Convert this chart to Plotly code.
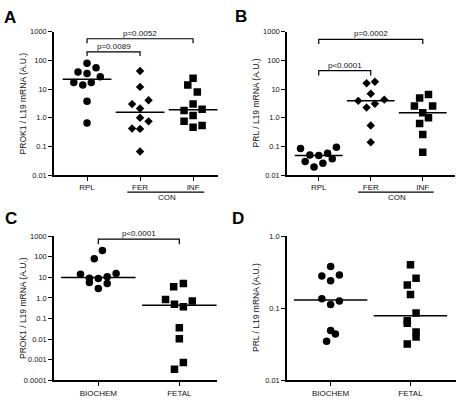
import math
import plotly.graph_objects as go

# ---------------- data ----------------
# Panel A: PROK1 / L19 mRNA
A_categories = ["RPL", "FER", "INF"]
A_RPL = [80, 40, 35, 56, 27, 17, 14, 17, 3.8, 0.66]
A_RPL_off = [0, -0.17, 0, 0.17, 0.25, -0.25, -0.08, 0.08, 0, 0]
A_FER = [43, 12, 3.0, 4.1, 2.1, 1.0, 0.75, 0.42, 0.41, 0.066]
A_FER_off = [0, 0, -0.15, 0.16, 0, 0, 0.16, -0.15, 0, 0]
A_INF = [24, 14, 8, 3.0, 1.8, 2.0, 1.2, 0.75, 0.47, 0.54]
A_INF_off = [0, -0.1, 0.08, 0, -0.17, 0.17, 0, -0.17, 0, 0.17]
A_medians = [22, 1.55, 1.9]

# Panel B: PRL / L19 mRNA
B_categories = ["RPL", "FER", "INF"]
B_RPL = [0.085, 0.093, 0.05, 0.048, 0.058, 0.03, 0.019, 0.026, 0.037]
B_RPL_off = [-0.35, 0.34, -0.17, 0, 0.17, -0.26, -0.09, 0.08, 0.26]
B_FER = [16, 18, 6.9, 3.9, 4.3, 3.1, 2.3, 0.54, 0.14]
B_FER_off = [-0.08, 0.08, 0, -0.24, 0.26, 0.08, -0.08, 0, 0]
B_INF = [6.5, 4.9, 2.6, 2.6, 1.5, 1.0, 0.63, 0.26, 0.063]
B_INF_off = [0.11, -0.06, -0.16, 0.19, 0, 0.11, -0.06, 0, 0]
B_medians = [0.048, 3.9, 1.5]

# Panel C: PROK1 / L19 mRNA
C_categories = ["BIOCHEM", "FETAL"]
C_BIO = [200, 80, 14, 15.5, 9, 8.7, 10.7, 5.6, 5.0, 2.9]
C_BIO_off = [0.05, -0.05, -0.22, 0.22, -0.11, 0, 0.11, -0.11, 0.11, 0]
C_FET = [3.5, 5.0, 0.85, 0.49, 0.37, 0.71, 0.036, 0.0105, 0.00074, 0.00035]
C_FET_off = [-0.07, 0.05, -0.17, -0.06, 0.05, 0.16, 0, 0, 0.05, -0.06]
C_medians = [9.8, 0.44]

# Panel D: PRL / L19 mRNA
D_categories = ["BIOCHEM", "FETAL"]
D_BIO = [0.38, 0.28, 0.29, 0.24, 0.135, 0.126, 0.113, 0.049, 0.044, 0.035]
D_BIO_off = [0, -0.11, 0.11, 0, -0.11, 0.11, 0, 0, 0.06, -0.05]
D_FET = [0.40, 0.26, 0.21, 0.155, 0.086, 0.067, 0.062, 0.047, 0.040, 0.032]
D_FET_off = [0, 0.07, -0.04, 0, 0.07, -0.04, -0.04, 0.07, 0.07, -0.04]
D_medians = [0.13, 0.079]

ticks_ABD = [1000, 100, 10, 1, 0.1, 0.01]
ticktext_ABD = ["1000", "100", "10", "1.0", "0.1", "0.01"]
ticks_C = [1000, 100, 10, 1, 0.1, 0.01, 0.001, 0.0001]
ticktext_C = ["1000", "100", "10", "1.0", "0.1", "0.01", "0.001", "0.0001"]
ticks_D = [1, 0.1, 0.01]
ticktext_D = ["1.0", "0.1", "0.01"]

# ---------------- layout helpers ----------------
W, H = 457, 401
FONT = "Liberation Sans, Arial, sans-serif"
TXT = "#111"


def px(x):
    return x / W


def py(y):
    return 1 - y / H


fig = go.Figure()


def add_group(xa, ya, idx, vals, offs, symbol, size):
    fig.add_trace(go.Scatter(
        x=[idx + o for o in offs], y=vals, mode="markers",
        marker=dict(symbol=symbol, size=size, color="black", line=dict(width=0)),
        xaxis=xa, yaxis=ya, showlegend=False, hoverinfo="y"))


def add_median(xa, ya, idx, m, half=0.46):
    fig.add_trace(go.Scatter(
        x=[idx - half, idx + half], y=[m, m], mode="lines",
        line=dict(color="black", width=1.5),
        xaxis=xa, yaxis=ya, showlegend=False, hoverinfo="skip"))


def add_bracket(xa, ya, i0, i1, lo, hi, label):
    fig.add_trace(go.Scatter(
        x=[i0, i0, i1, i1], y=[lo, hi, hi, lo], mode="lines",
        line=dict(color="black", width=1.2),
        xaxis=xa, yaxis=ya, showlegend=False, hoverinfo="skip"))
    fig.add_annotation(x=(i0 + i1) / 2, y=math.log10(hi), xref=xa, yref=ya,
                       text=label, showarrow=False, xanchor="center",
                       yanchor="bottom", yshift=-1,
                       font=dict(family=FONT, size=8, color=TXT))


# Panel A
add_group("x", "y", 0, A_RPL, A_RPL_off, "circle", 7.5)
add_group("x", "y", 1, A_FER, A_FER_off, "diamond", 6.5)
add_group("x", "y", 2, A_INF, A_INF_off, "square", 7.5)
for i, m in enumerate(A_medians):
    add_median("x", "y", i, m)
add_bracket("x", "y", 0, 2, 400, 575, "p=0.0052")
add_bracket("x", "y", 0, 1, 145, 200, "p=0.0089")

# Panel B
add_group("x2", "y2", 0, B_RPL, B_RPL_off, "circle", 7.5)
add_group("x2", "y2", 1, B_FER, B_FER_off, "diamond", 6.5)
add_group("x2", "y2", 2, B_INF, B_INF_off, "square", 7.5)
for i, m in enumerate(B_medians):
    add_median("x2", "y2", i, m)
add_bracket("x2", "y2", 0, 2, 380, 550, "p=0.0002")
add_bracket("x2", "y2", 0, 1, 30, 44, "p<0.0001")

# Panel C
add_group("x3", "y3", 0, C_BIO, C_BIO_off, "circle", 7.5)
add_group("x3", "y3", 1, C_FET, C_FET_off, "square", 7.5)
for i, m in enumerate(C_medians):
    add_median("x3", "y3", i, m)
add_bracket("x3", "y3", 0, 1, 400, 720, "p<0.0001")

# Panel D
add_group("x4", "y4", 0, D_BIO, D_BIO_off, "circle", 7.5)
add_group("x4", "y4", 1, D_FET, D_FET_off, "square", 7.5)
for i, m in enumerate(D_medians):
    add_median("x4", "y4", i, m)


def xaxis(dom, rng, cats):
    return dict(domain=[px(dom[0]), px(dom[1])], range=list(rng),
                tickvals=list(range(len(cats))), ticktext=cats,
                showline=True, linecolor="black", linewidth=1.5,
                ticks="outside", ticklen=4, tickwidth=1.2, tickcolor="black",
                showgrid=False, zeroline=False, fixedrange=True,
                tickfont=dict(family=FONT, size=8, color=TXT))


def yaxis(dom, rng, tv, tt, anchor):
    return dict(domain=[py(dom[1]), py(dom[0])], type="log", range=list(rng),
                tickvals=tv, ticktext=tt, anchor=anchor,
                showline=True, linecolor="black", linewidth=1.5,
                ticks="outside", ticklen=4, tickwidth=1.2, tickcolor="black",
                showgrid=False, zeroline=False, fixedrange=True,
                tickfont=dict(family=FONT, size=7.5, color=TXT))


fig.update_layout(
    width=W, height=H, margin=dict(l=0, r=0, t=0, b=0),
    paper_bgcolor="white", plot_bgcolor="white", showlegend=False,
    xaxis=xaxis((54, 218), (-0.623, 2.47), A_categories) | dict(anchor="y"),
    yaxis=yaxis((28.5, 175), (-2, 3), ticks_ABD, ticktext_ABD, "x"),
    xaxis2=xaxis((287, 455), (-0.61, 2.62), B_categories) | dict(anchor="y2"),
    yaxis2=yaxis((28.5, 175), (-2, 3), ticks_ABD, ticktext_ABD, "x2"),
    xaxis3=xaxis((54, 217), (-0.547, 1.465), C_categories) | dict(anchor="y3"),
    yaxis3=yaxis((237.5, 385), (-4, 3), ticks_C, ticktext_C, "x3"),
    xaxis4=xaxis((287, 456), (-0.546, 1.57), D_categories) | dict(anchor="y4"),
    yaxis4=yaxis((237.5, 385), (-2, 0), ticks_D, ticktext_D, "x4"),
)

# y-axis titles
for xpix, ymid, txt in [(23, 101.7, "PROK1 / L19 mRNA (A.U.)"),
                        (256, 101.7, "PRL / L19 mRNA (A.U.)"),
                        (23, 311, "PROK1 / L19 mRNA (A.U.)"),
                        (256, 311, "PRL / L19 mRNA (A.U.)")]:
    fig.add_annotation(x=px(xpix), y=py(ymid), xref="paper", yref="paper",
                       text=txt, textangle=-90, showarrow=False,
                       xanchor="center", yanchor="middle",
                       font=dict(family=FONT, size=8.5, color=TXT))

# panel letters
for xpix, ypix, t in [(10, 14, "A"), (241, 13, "B"), (11, 219, "C"), (238, 219, "D")]:
    fig.add_annotation(x=px(xpix), y=py(ypix), xref="paper", yref="paper",
                       text="<b>%s</b>" % t, showarrow=False,
                       xanchor="center", yanchor="middle",
                       font=dict(family=FONT, size=17, color="black"))

# CON group underline and label (panels A and B)
for xa in ["x", "x2"]:
    fig.add_shape(type="line", xref=xa, yref="paper", x0=0.76, x1=2.21,
                  y0=py(192.5), y1=py(192.5), line=dict(color="black", width=1.2))
    fig.add_annotation(x=1.5, y=py(198), xref=xa, yref="paper", text="CON",
                       showarrow=False, xanchor="center", yanchor="middle",
                       font=dict(family=FONT, size=8, color=TXT))

fig.write_html("out.html",
               config={"displayModeBar": False},
               post_script="document.body.style.margin='0';"
                           "document.documentElement.style.overflow='hidden';")
